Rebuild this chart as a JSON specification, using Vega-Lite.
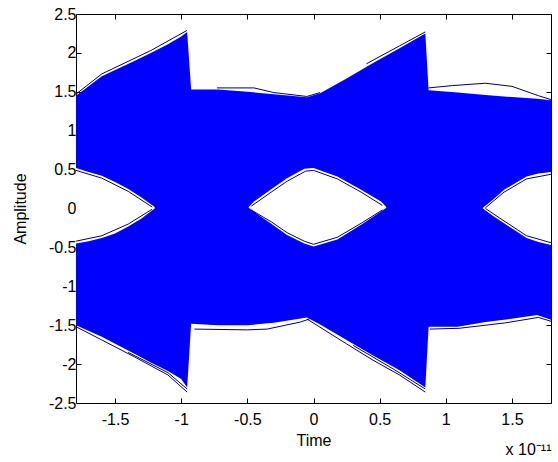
{
  "$schema": "https://vega.github.io/schema/vega-lite/v6.json",
  "width": 475,
  "height": 389,
  "autosize": "none",
  "padding": {"left": 76, "top": 14, "right": 7, "bottom": 59},
  "background": "white",
  "config": {
    "view": {"stroke": "#000000", "strokeWidth": 1},
    "font": "Liberation Sans",
    "axis": {
      "domain": false, "grid": false,
      "tickColor": "#000000", "tickSize": -5, "tickWidth": 1,
      "labelFont": "Liberation Sans", "labelFontSize": 16, "labelColor": "#000000",
      "titleFont": "Liberation Sans", "titleFontSize": 16, "titleFontWeight": "normal", "titleColor": "#000000"
    }
  },
  "title": {"text": "x 10⁻¹¹", "orient": "bottom", "anchor": "end", "fontSize": 16, "fontWeight": "normal", "font": "Liberation Sans", "color": "#000000", "offset": -6},
  "datasets": {
    "envelope": [
      {"x": -1.795, "lo": -1.50, "hi": 1.45},
      {"x": -1.6, "lo": -1.65, "hi": 1.70},
      {"x": -1.35, "lo": -1.87, "hi": 1.90},
      {"x": -1.23, "lo": -1.98, "hi": 2.00},
      {"x": -1.1, "lo": -2.09, "hi": 2.11},
      {"x": -1.0, "lo": -2.19, "hi": 2.21},
      {"x": -0.955, "lo": -2.30, "hi": 2.27},
      {"x": -0.925, "lo": -1.48, "hi": 1.53},
      {"x": -0.72, "lo": -1.50, "hi": 1.53},
      {"x": -0.5, "lo": -1.50, "hi": 1.50},
      {"x": -0.3, "lo": -1.47, "hi": 1.47},
      {"x": -0.05, "lo": -1.40, "hi": 1.43},
      {"x": 0.05, "lo": -1.49, "hi": 1.48},
      {"x": 0.25, "lo": -1.69, "hi": 1.67},
      {"x": 0.45, "lo": -1.89, "hi": 1.87},
      {"x": 0.65, "lo": -2.08, "hi": 2.06},
      {"x": 0.845, "lo": -2.30, "hi": 2.25},
      {"x": 0.87, "lo": -1.52, "hi": 1.52},
      {"x": 1.09, "lo": -1.52, "hi": 1.49},
      {"x": 1.3, "lo": -1.46, "hi": 1.46},
      {"x": 1.44, "lo": -1.43, "hi": 1.44},
      {"x": 1.69, "lo": -1.37, "hi": 1.41},
      {"x": 1.795, "lo": -1.43, "hi": 1.39}
    ],
    "eyes": [
      {"eye": "left", "x": -1.795, "lo": -0.45, "hi": 0.52},
      {"eye": "left", "x": -1.7, "lo": -0.42, "hi": 0.47},
      {"eye": "left", "x": -1.6, "lo": -0.38, "hi": 0.42},
      {"eye": "left", "x": -1.5, "lo": -0.32, "hi": 0.34},
      {"eye": "left", "x": -1.4, "lo": -0.23, "hi": 0.25},
      {"eye": "left", "x": -1.3, "lo": -0.13, "hi": 0.14},
      {"eye": "left", "x": -1.2, "lo": 0.0, "hi": 0.02},
      {"eye": "center", "x": -0.49, "lo": 0.01, "hi": 0.02},
      {"eye": "center", "x": -0.45, "lo": -0.04, "hi": 0.09},
      {"eye": "center", "x": -0.325, "lo": -0.19, "hi": 0.24},
      {"eye": "center", "x": -0.2, "lo": -0.34, "hi": 0.39},
      {"eye": "center", "x": -0.07, "lo": -0.45, "hi": 0.51},
      {"eye": "center", "x": 0.0, "lo": -0.49, "hi": 0.52},
      {"eye": "center", "x": 0.18, "lo": -0.40, "hi": 0.41},
      {"eye": "center", "x": 0.36, "lo": -0.21, "hi": 0.24},
      {"eye": "center", "x": 0.51, "lo": -0.04, "hi": 0.09},
      {"eye": "center", "x": 0.55, "lo": 0.01, "hi": 0.02},
      {"eye": "right", "x": 1.28, "lo": 0.0, "hi": 0.01},
      {"eye": "right", "x": 1.36, "lo": -0.10, "hi": 0.12},
      {"eye": "right", "x": 1.44, "lo": -0.19, "hi": 0.24},
      {"eye": "right", "x": 1.53, "lo": -0.29, "hi": 0.33},
      {"eye": "right", "x": 1.61, "lo": -0.38, "hi": 0.41},
      {"eye": "right", "x": 1.7, "lo": -0.43, "hi": 0.45},
      {"eye": "right", "x": 1.795, "lo": -0.47, "hi": 0.47}
    ],
    "traces": [
      {"t": "ll1", "x": -1.795, "y": -1.52}, {"t": "ll1", "x": -1.6, "y": -1.69}, {"t": "ll1", "x": -1.35, "y": -1.91}, {"t": "ll1", "x": -1.1, "y": -2.14}, {"t": "ll1", "x": -0.955, "y": -2.36},
      {"t": "ll2", "x": -1.4, "y": -1.85}, {"t": "ll2", "x": -1.1, "y": -2.11}, {"t": "ll2", "x": -0.955, "y": -2.32},
      {"t": "lr1", "x": -0.05, "y": -1.42}, {"t": "lr1", "x": 0.25, "y": -1.74}, {"t": "lr1", "x": 0.45, "y": -1.95}, {"t": "lr1", "x": 0.65, "y": -2.14}, {"t": "lr1", "x": 0.845, "y": -2.36},
      {"t": "lr2", "x": 0.3, "y": -1.76}, {"t": "lr2", "x": 0.6, "y": -2.06}, {"t": "lr2", "x": 0.845, "y": -2.32},
      {"t": "ul1", "x": -1.795, "y": 1.47}, {"t": "ul1", "x": -1.6, "y": 1.73}, {"t": "ul1", "x": -1.23, "y": 2.03}, {"t": "ul1", "x": -0.955, "y": 2.29},
      {"t": "ur1", "x": 0.4, "y": 1.86}, {"t": "ur1", "x": 0.65, "y": 2.09}, {"t": "ur1", "x": 0.845, "y": 2.27},
      {"t": "uf1", "x": -0.73, "y": 1.55}, {"t": "uf1", "x": -0.45, "y": 1.55}, {"t": "uf1", "x": -0.3, "y": 1.49}, {"t": "uf1", "x": -0.05, "y": 1.44}, {"t": "uf1", "x": 0.05, "y": 1.49},
      {"t": "bf1", "x": -0.9, "y": -1.55}, {"t": "bf1", "x": -0.5, "y": -1.56}, {"t": "bf1", "x": -0.35, "y": -1.55}, {"t": "bf1", "x": -0.1, "y": -1.46}, {"t": "bf1", "x": -0.03, "y": -1.42},
      {"t": "rt1", "x": 0.87, "y": 1.55}, {"t": "rt1", "x": 1.05, "y": 1.58}, {"t": "rt1", "x": 1.3, "y": 1.61}, {"t": "rt1", "x": 1.5, "y": 1.57}, {"t": "rt1", "x": 1.7, "y": 1.45}, {"t": "rt1", "x": 1.795, "y": 1.40},
      {"t": "rb1", "x": 0.88, "y": -1.55}, {"t": "rb1", "x": 1.1, "y": -1.54}, {"t": "rb1", "x": 1.45, "y": -1.47}, {"t": "rb1", "x": 1.7, "y": -1.40}, {"t": "rb1", "x": 1.795, "y": -1.45},
      {"t": "ce1", "x": -0.47, "y": 0.03}, {"t": "ce1", "x": -0.32, "y": 0.21}, {"t": "ce1", "x": -0.2, "y": 0.35}, {"t": "ce1", "x": -0.06, "y": 0.48}, {"t": "ce1", "x": 0.0, "y": 0.49}, {"t": "ce1", "x": 0.18, "y": 0.38}, {"t": "ce1", "x": 0.36, "y": 0.21}, {"t": "ce1", "x": 0.52, "y": 0.04},
      {"t": "ce2", "x": -0.47, "y": -0.02}, {"t": "ce2", "x": -0.32, "y": -0.17}, {"t": "ce2", "x": -0.2, "y": -0.31}, {"t": "ce2", "x": -0.07, "y": -0.42}, {"t": "ce2", "x": 0.0, "y": -0.46}, {"t": "ce2", "x": 0.18, "y": -0.37}, {"t": "ce2", "x": 0.36, "y": -0.19}, {"t": "ce2", "x": 0.52, "y": -0.02},
      {"t": "le1", "x": -1.795, "y": 0.49}, {"t": "le1", "x": -1.6, "y": 0.39}, {"t": "le1", "x": -1.4, "y": 0.22}, {"t": "le1", "x": -1.22, "y": 0.02},
      {"t": "le2", "x": -1.795, "y": -0.42}, {"t": "le2", "x": -1.6, "y": -0.35}, {"t": "le2", "x": -1.4, "y": -0.20}, {"t": "le2", "x": -1.22, "y": -0.01},
      {"t": "re1", "x": 1.3, "y": 0.01}, {"t": "re1", "x": 1.44, "y": 0.21}, {"t": "re1", "x": 1.61, "y": 0.38}, {"t": "re1", "x": 1.795, "y": 0.44},
      {"t": "re2", "x": 1.3, "y": 0.0}, {"t": "re2", "x": 1.44, "y": -0.16}, {"t": "re2", "x": 1.61, "y": -0.35}, {"t": "re2", "x": 1.795, "y": -0.44}
    ]
  },
  "resolve": {"axis": {"x": "independent", "y": "independent"}},
  "layer": [
    {
      "data": {"name": "envelope"},
      "mark": {"type": "area", "color": "#0000ff", "interpolate": "linear", "clip": true},
      "encoding": {
        "x": {"field": "x", "type": "quantitative", "scale": {"domain": [-1.795, 1.795], "nice": false, "zero": false},
              "axis": {"orient": "bottom", "values": [-1.5, -1, -0.5, 0, 0.5, 1, 1.5], "labelExpr": "datum.value + ''", "title": "Time", "labelPadding": 13, "titlePadding": 5}},
        "y": {"field": "lo", "type": "quantitative", "scale": {"domain": [-2.5, 2.5], "nice": false, "zero": false},
              "axis": {"orient": "left", "values": [-2.5, -2, -1.5, -1, -0.5, 0, 0.5, 1, 1.5, 2, 2.5], "labelExpr": "datum.value + ''", "title": "Amplitude", "labelPadding": 5, "titlePadding": 20}},
        "y2": {"field": "hi"}
      }
    },
    {
      "data": {"name": "eyes"},
      "mark": {"type": "area", "color": "#ffffff", "interpolate": "linear", "clip": true},
      "encoding": {
        "x": {"field": "x", "type": "quantitative", "axis": {"orient": "top", "values": [-1.5, -1, -0.5, 0, 0.5, 1, 1.5], "labels": false, "title": null}},
        "y": {"field": "lo", "type": "quantitative", "axis": {"orient": "right", "values": [-2.5, -2, -1.5, -1, -0.5, 0, 0.5, 1, 1.5, 2, 2.5], "labels": false, "title": null}},
        "y2": {"field": "hi"},
        "detail": {"field": "eye"}
      }
    },
    {
      "data": {"name": "traces"},
      "mark": {"type": "line", "color": "#00006e", "strokeWidth": 1, "clip": true},
      "encoding": {
        "x": {"field": "x", "type": "quantitative", "axis": null},
        "y": {"field": "y", "type": "quantitative", "axis": null},
        "detail": {"field": "t"}
      }
    }
  ]
}
